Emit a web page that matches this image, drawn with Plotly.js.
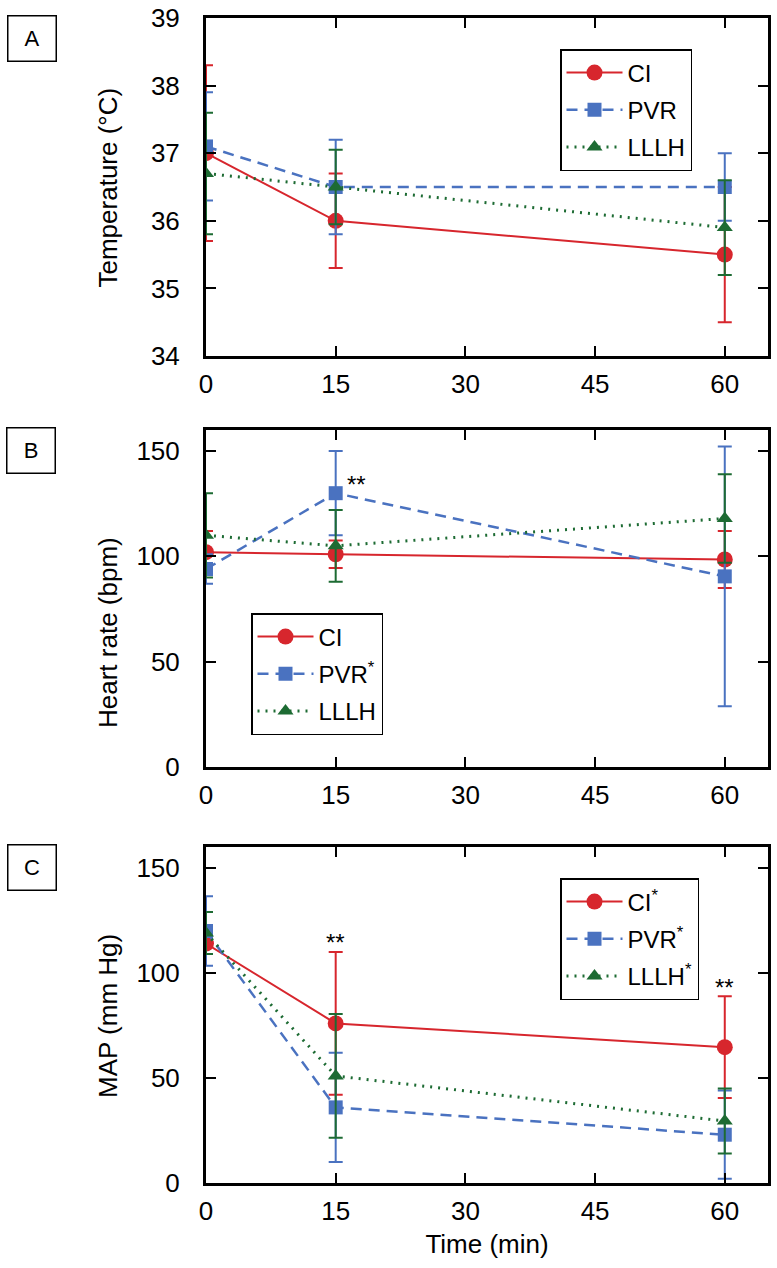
<!DOCTYPE html>
<html>
<head>
<meta charset="utf-8">
<script src="https://cdn.plot.ly/plotly-3.0.1.min.js"></script>
<style>
  body { margin: 0; background: #fff; }
  #graph { width: 777px; height: 1268px; }
</style>
</head>
<body>
<div id="graph"></div>
<script>
// time points (min)
var times = [0, 15, 60];
var xTicks = [0, 15, 30, 45, 60];

// A - temperature
var tempCI = [37.0, 36.0, 35.5];
var tempCIErr = [1.3, 0.7, 1.0];
var tempPVR = [37.1, 36.5, 36.5];
var tempPVRErr = [0.8, 0.7, 0.5];
var tempLLLH = [36.7, 36.5, 35.9];
var tempLLLHErr = [0.9, 0.55, 0.7];

// B - heart rate
var hrCI = [102, 101, 98.5];
var hrCIErr = [10, 6.5, 13.5];
var hrPVR = [94, 130, 90.5];
var hrPVRErr = [7, 20, 61.7];
var hrLLLH = [110, 105, 118];
var hrLLLHErr = [20, 17, 21];

// C - MAP
var mapCI = [114, 76, 64.7];
var mapCIErr = [5, 34, 24.2];
var mapPVR = [120, 36, 23];
var mapPVRErr = [16.5, 26, 21];
var mapLLLH = [119, 51, 29.5];
var mapLLLHErr = [10, 29.5, 15.5];

var red = '#d7262d', blue = '#4a72c0', green = '#1d6b33';
var fnt = 'Liberation Sans, Arial, Helvetica, sans-serif';

function series(y, err, name, style, xa, ya, leg) {
	var st = {
		CI: {color: red, dash: 'solid', width: 2, symbol: 'circle', size: 16},
		PVR: {color: blue, dash: '11px,7px', width: 2.5, symbol: 'square', size: 14},
		LLLH: {color: green, dash: '2px,6px', width: 3, symbol: 'triangle-up', size: 14}
	}[style];
	return {
		x: times,
		y: y,
		name: name,
		xaxis: xa,
		yaxis: ya,
		legend: leg,
		legendgroup: leg + style,
		mode: 'lines+markers',
		hoverinfo: 'none',
		line: {color: st.color, dash: st.dash, width: st.width},
		marker: {color: st.color, symbol: st.symbol, size: st.size},
		error_y: {type: 'data', array: err, visible: true, color: st.color, thickness: 2, width: 7}
	}
}

var traces = [
	series(tempCI, tempCIErr, 'CI', 'CI', 'x', 'y', 'legend'),
	series(tempPVR, tempPVRErr, 'PVR', 'PVR', 'x', 'y', 'legend'),
	series(tempLLLH, tempLLLHErr, 'LLLH', 'LLLH', 'x', 'y', 'legend'),
	series(hrCI, hrCIErr, 'CI', 'CI', 'x2', 'y2', 'legend2'),
	series(hrPVR, hrPVRErr, 'PVR<sup>*</sup>', 'PVR', 'x2', 'y2', 'legend2'),
	series(hrLLLH, hrLLLHErr, 'LLLH', 'LLLH', 'x2', 'y2', 'legend2'),
	series(mapCI, mapCIErr, 'CI<sup>*</sup>', 'CI', 'x3', 'y3', 'legend3'),
	series(mapPVR, mapPVRErr, 'PVR<sup>*</sup>', 'PVR', 'x3', 'y3', 'legend3'),
	series(mapLLLH, mapLLLHErr, 'LLLH<sup>*</sup>', 'LLLH', 'x3', 'y3', 'legend3')
];

var xdom = [206 / 777, 768 / 777];

function xaxis(anchor) {
	return {
		domain: xdom, anchor: anchor, range: [0, 65], autorange: false,
		tickvals: xTicks, ticks: 'inside', ticklen: 10, tickwidth: 2, tickcolor: '#000',
		showline: true, linewidth: 3, linecolor: '#000', mirror: 'allticks',
		showgrid: false, zeroline: false, ticklabelstandoff: 3,
		tickfont: {family: fnt, size: 26, color: '#000'}
	}
}
function yaxis(anchor, dom, range, dtick) {
	return {
		domain: dom, anchor: anchor, range: range, autorange: false, dtick: dtick,
		ticks: 'inside', ticklen: 10, tickwidth: 2, tickcolor: '#000',
		showline: true, linewidth: 3, linecolor: '#000', mirror: 'allticks',
		showgrid: false, zeroline: false, ticklabelstandoff: 18,
		tickfont: {family: fnt, size: 26, color: '#000'}
	}
}

function legendAt(x, y) {
	return {
		x: x, y: y, xanchor: 'left', yanchor: 'top',
		bordercolor: '#000', borderwidth: 1.5, bgcolor: '#fff',
		tracegroupgap: 3, itemwidth: 56,
		font: {family: fnt, size: 24, color: '#000'}
	}
}

function panelLabel(t, x, y) {
	return {
		text: t, x: x, y: y, xref: 'paper', yref: 'paper', showarrow: false,
		xanchor: 'center', yanchor: 'middle',
		width: 47, height: 44, bordercolor: '#000', borderwidth: 1.5, borderpad: 0,
		font: {family: fnt, size: 22, color: '#000'}
	}
}
function yTitle(t, y) {
	return {
		text: t, x: 108 / 777, y: y, xref: 'paper', yref: 'paper', showarrow: false,
		xanchor: 'center', yanchor: 'middle',
		textangle: -90, font: {family: fnt, size: 26, color: '#000'}
	}
}
function stars(x, y, xa, ya) {
	return {
		text: '**', x: x, y: y, xref: xa, yref: ya, showarrow: false,
		xanchor: 'center', yanchor: 'middle',
		font: {family: fnt, size: 24, color: '#000'}
	}
}

var layout = {
	width: 777,
	height: 1268,
	margin: {l: 0, r: 0, t: 0, b: 0},
	paper_bgcolor: '#fff',
	plot_bgcolor: '#fff',
	font: {family: fnt, color: '#000'},
	xaxis: xaxis('y'),
	yaxis: yaxis('x', [1 - 356 / 1268, 1 - 18 / 1268], [34, 39], 1),
	xaxis2: xaxis('y2'),
	yaxis2: yaxis('x2', [1 - 767 / 1268, 1 - 430 / 1268], [0, 160], 50),
	xaxis3: Object.assign(xaxis('y3'), {
		title: {text: 'Time (min)', font: {family: fnt, size: 26, color: '#000'}, standoff: 10}
	}),
	yaxis3: yaxis('x3', [1 - 1183 / 1268, 1 - 847 / 1268], [0, 160], 50),
	legend: legendAt(560 / 777, 1 - 49 / 1268),
	legend2: legendAt(251 / 777, 1 - 613 / 1268),
	legend3: legendAt(560 / 777, 1 - 878 / 1268),
	annotations: [
		panelLabel('A', 32 / 777, 1 - 38.5 / 1268),
		panelLabel('B', 30.5 / 777, 1 - 450.5 / 1268),
		panelLabel('C', 31.5 / 777, 1 - 867.5 / 1268),
		yTitle('Temperature (°C)', 1 - 187.5 / 1268),
		yTitle('Heart rate (bpm)', 1 - 633 / 1268),
		yTitle('MAP (mm Hg)', 1 - 1016 / 1268),
		stars(17.4, 134, 'x2', 'y2'),
		stars(15, 114.5, 'x3', 'y3'),
		stars(60, 93, 'x3', 'y3')
	]
};

Plotly.newPlot('graph', traces, layout, {displayModeBar: false, staticPlot: true});
</script>
</body>
</html>
